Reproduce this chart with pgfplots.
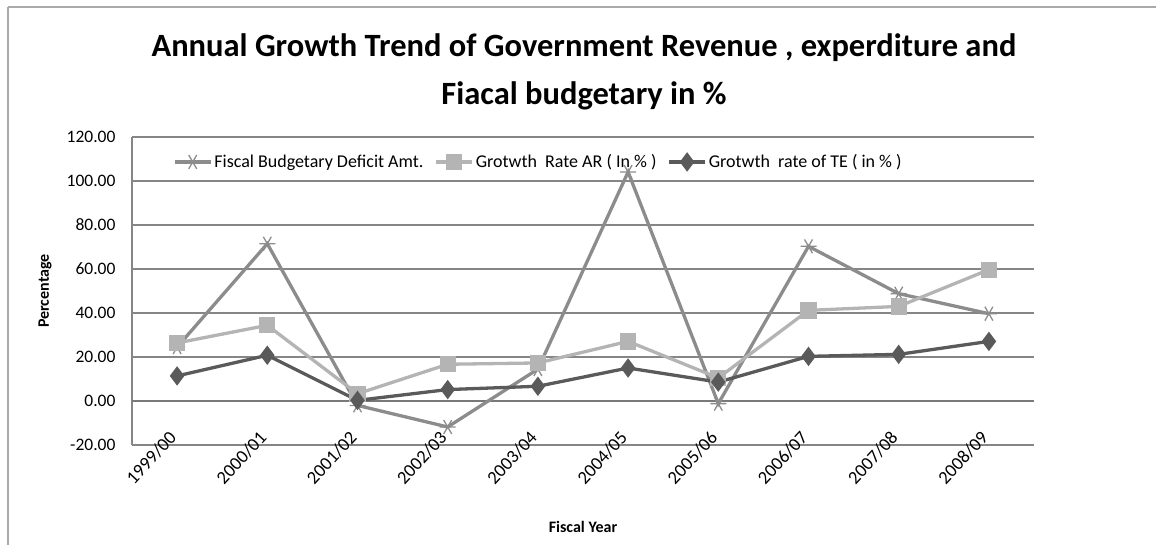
\documentclass[border=0pt]{standalone}
\usepackage{pgfplots}
\pgfplotsset{compat=1.18}
\usepackage{fontspec}
\setmainfont{Carlito}

\definecolor{deficit}{RGB}{140,140,140}
\definecolor{revgrowth}{RGB}{180,180,180}
\definecolor{expgrowth}{RGB}{90,90,90}
\definecolor{gridgray}{RGB}{134,134,134}

\begin{document}
\begin{tikzpicture}[x=1pt,y=1pt]
\useasboundingbox (0,0) rectangle (1156,-544);
% outer chart frame
\draw[gridgray!70, line width=1.2pt] (8,-7) -- (1170,-7) (8,-7) -- (8,-560);
% chart title
\node[font=\fontsize{32.5}{48}\selectfont\bfseries, align=center] at (584,-72)
  {Annual Growth Trend of Government Revenue , experditure and\\Fiacal budgetary in \%};

\begin{axis}[
  at={(132pt,-445pt)}, anchor=south west,
  scale only axis, width=902pt, height=308pt,
  xmin=-0.5, xmax=9.5, ymin=-20, ymax=120,
  ytick={-20,0,20,40,60,80,100,120},
  xtick={0,...,9},
  xticklabels={1999/00,2000/01,2001/02,2002/03,2003/04,2004/05,2005/06,2006/07,2007/08,2008/09},
  axis x line*=bottom, axis y line*=left,
  axis line style={gridgray, line width=1.3pt, -},
  major tick length=0pt,
  ymajorgrids, major grid style={gridgray, line width=1.3pt},
  extra y ticks={0}, extra y tick labels={},
  extra y tick style={major grid style={gridgray!90!black, line width=2.2pt}},
  /pgf/number format/assume math mode=true,
  yticklabel={\pgfmathprintnumber[fixed,fixed zerofill,precision=2]{\tick}},
  ticklabel style={font=\fontsize{17.5}{20}\selectfont},
  yticklabel style={anchor=east, xshift=-13pt},
  xticklabel style={font=\fontsize{18.5}{20}\selectfont, rotate=47, anchor=east, yshift=10pt, xshift=8pt},
  xlabel={Fiscal Year}, ylabel={Percentage},
  label style={font=\fontsize{16}{18}\selectfont\bfseries},
  xlabel style={at={(rel axis cs:0.5,-0.266)}, anchor=center},
  ylabel style={at={(rel axis cs:-0.0965,0.5)}, anchor=center, rotate=0},
  legend columns=3,
  legend style={draw=none, fill=none, at={(0.042,0.919)}, anchor=west,
    font=\fontsize{18}{20}\selectfont,
    /tikz/every odd column/.append style={column sep=0pt},
    /tikz/every even column/.append style={column sep=9pt}},
  legend image code/.code={%
    \draw[mark repeat=2, mark phase=2, #1] plot coordinates {(0pt,0pt) (18pt,0pt) (36pt,0pt)};},
  clip=false,
]
\addplot[deficit, line width=3.3pt, mark=asterisk, mark size=8pt,
  mark options={rotate=90, line width=1.3pt}]
  coordinates {(0,24.5) (1,71.5) (2,-2) (3,-11.8) (4,14.5) (5,104.1) (6,-1.2) (7,70.3) (8,48.8) (9,39.7)};
\addlegendentry{Fiscal Budgetary Deficit Amt.}
\addplot[revgrowth, line width=3.3pt, mark=square*, mark size=6.5pt]
  coordinates {(0,26.4) (1,34.4) (2,3.3) (3,16.7) (4,17.3) (5,27.1) (6,10.5) (7,41.2) (8,43) (9,59.7)};
\addlegendentry{Grotwth\ \ Rate AR ( In \% )}
\addplot[expgrowth, line width=3.3pt, mark=diamond*, mark size=7pt]
  coordinates {(0,11.4) (1,20.8) (2,0.3) (3,5.2) (4,6.7) (5,15.0) (6,8.6) (7,20.3) (8,21.2) (9,27.1)};
\addlegendentry{Grotwth\ \ rate of TE ( in \% )}
\end{axis}
\end{tikzpicture}
\end{document}
